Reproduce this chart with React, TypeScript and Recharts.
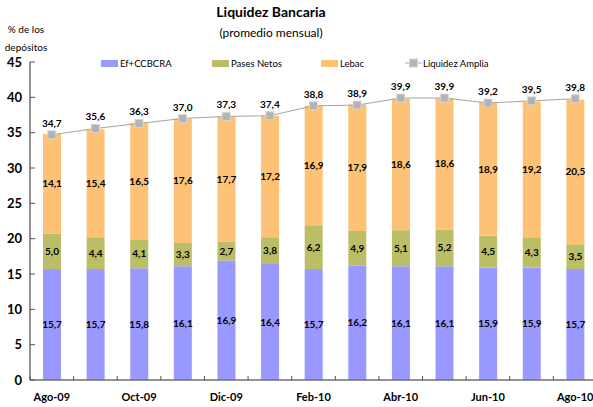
import React from 'react';
import { ComposedChart, Bar, Line, XAxis, YAxis, LabelList } from 'recharts';

const months = ['Ago-09', 'Sep-09', 'Oct-09', 'Nov-09', 'Dic-09', 'Ene-10', 'Feb-10', 'Mar-10', 'Abr-10', 'May-10', 'Jun-10', 'Jul-10', 'Ago-10'];
const efectivo = [15.7, 15.7, 15.8, 16.1, 16.9, 16.4, 15.7, 16.2, 16.1, 16.1, 15.9, 15.9, 15.7];
const pases = [5.0, 4.4, 4.1, 3.3, 2.7, 3.8, 6.2, 4.9, 5.1, 5.2, 4.5, 4.3, 3.5];
const lebac = [14.1, 15.4, 16.5, 17.6, 17.7, 17.2, 16.9, 17.9, 18.6, 18.6, 18.9, 19.2, 20.5];
const liquidez = [34.7, 35.6, 36.3, 37.0, 37.3, 37.4, 38.8, 38.9, 39.9, 39.9, 39.2, 39.5, 39.8];
const yTicks = [0, 5, 10, 15, 20, 25, 30, 35, 40, 45];

const data = months.map((m, i) => ({
  m,
  ef: efectivo[i],
  pases: pases[i],
  lebac: lebac[i],
  liq: liquidez[i],
}));

const FONT = 'Lato, "DejaVu Sans", sans-serif';
const fmt = (v: any) => Number(v).toFixed(1).replace('.', ',');

const XTick = (props: any) => {
  const { x, y, payload, index } = props;
  const half = payload && payload.offset ? payload.offset : 21.8;
  return (
    <g>
      <line x1={x - half} x2={x - half} y1={y} y2={y - 4} stroke="#555" strokeWidth={1} />
      {index % 2 === 0 && (
        <text x={x} y={y + 21} textAnchor="middle" fontSize={11} fontWeight="bold" fill="#000" fontFamily={FONT}>
          {payload.value}
        </text>
      )}
    </g>
  );
};

const YTick = (props: any) => {
  const { x, y, payload } = props;
  return (
    <g>
      <line x1={x + 8} x2={x + 13} y1={y} y2={y} stroke="#555" strokeWidth={1} />
      <text x={x} y={y + 4.5} textAnchor="end" fontSize={13} fontWeight="bold" fill="#000" fontFamily={FONT}>
        {payload.value}
      </text>
    </g>
  );
};

const SquareDot = (props: any) => {
  const { cx, cy, index } = props;
  return <rect key={index} x={cx - 4} y={cy - 4} width={8} height={8} fill="#B3B3B3" stroke="#D6D6D6" strokeWidth={1} />;
};

const legendItems = [
  { label: 'Ef+CCBCRA', color: '#9999FF', x: 101 },
  { label: 'Pases Netos', color: '#BBBE66', x: 212 },
  { label: 'Lebac', color: '#FDC275', x: 321 },
];

const App: React.FC = () => {
  return (
    <div style={{ position: 'absolute', left: 0, top: 0, width: 593, height: 407, overflow: 'hidden', background: '#fff', fontFamily: FONT }}>
      <div style={{ position: 'absolute', left: 0, width: 542, top: 3, textAlign: 'center', fontSize: 14, fontWeight: 'bold' }}>
        Liquidez Bancaria
      </div>
      <div style={{ position: 'absolute', left: 0, width: 542, top: 25, textAlign: 'center', fontSize: 12 }}>
        (promedio mensual)
      </div>
      <div style={{ position: 'absolute', left: 0, width: 52, top: 20, textAlign: 'center', fontSize: 10, lineHeight: '18px' }}>
        % de los
        <br />
        depósitos
      </div>
      {legendItems.map((it) => (
        <div key={it.label} style={{ position: 'absolute', left: it.x, top: 56, height: 14, display: 'flex', alignItems: 'center', fontSize: 9.5 }}>
          <span style={{ display: 'inline-block', width: 17, height: 7, background: it.color, marginRight: 2 }} />
          {it.label}
        </div>
      ))}
      <div style={{ position: 'absolute', left: 405, top: 56, height: 14, display: 'flex', alignItems: 'center', fontSize: 9.5 }}>
        <svg width={17} height={14} style={{ marginRight: 1 }}>
          <line x1={0} x2={17} y1={7} y2={7} stroke="#A6A6A6" strokeWidth={1} />
          <rect x={4.5} y={3} width={8} height={8} fill="#B3B3B3" stroke="#D6D6D6" />
        </svg>
        Liquidez Amplia
      </div>
      <ComposedChart
        width={600}
        height={407}
        data={data}
        margin={{ top: 62, right: 3, left: 0, bottom: 0 }}
        style={{ position: 'absolute', left: 0, top: 0 }}
      >
        <XAxis
          dataKey="m"
          interval={0}
          height={27}
          tickSize={0}
          tickMargin={0}
          tickLine={false}
          axisLine={{ stroke: '#6f6f6f', strokeWidth: 1.5 }}
          tick={<XTick />}
        />
        <YAxis
          domain={[0, 45]}
          ticks={yTicks}
          width={30}
          tickSize={0}
          tickMargin={8}
          tickLine={false}
          axisLine={{ stroke: '#6f6f6f', strokeWidth: 1.5 }}
          tick={<YTick />}
        />
        <Bar dataKey="ef" stackId="a" fill="#9999FF" barSize={18} isAnimationActive={false}>
          <LabelList dataKey="ef" position="center" formatter={fmt} fontSize={10} fontWeight="bold" fill="#000" fontFamily={FONT} />
        </Bar>
        <Bar dataKey="pases" stackId="a" fill="#BBBE66" barSize={18} isAnimationActive={false}>
          <LabelList dataKey="pases" position="center" formatter={fmt} fontSize={10} fontWeight="bold" fill="#000" fontFamily={FONT} />
        </Bar>
        <Bar dataKey="lebac" stackId="a" fill="#FDC275" barSize={18} isAnimationActive={false}>
          <LabelList dataKey="lebac" position="center" formatter={fmt} fontSize={10} fontWeight="bold" fill="#000" fontFamily={FONT} />
        </Bar>
        <Line
          dataKey="liq"
          type="linear"
          stroke="#A6A6A6"
          strokeWidth={1}
          dot={SquareDot}
          activeDot={false}
          isAnimationActive={false}
        >
          <LabelList dataKey="liq" position="top" offset={8} formatter={fmt} fontSize={10} fontWeight="bold" fill="#000" fontFamily={FONT} />
        </Line>
      </ComposedChart>
    </div>
  );
};

export default App;
